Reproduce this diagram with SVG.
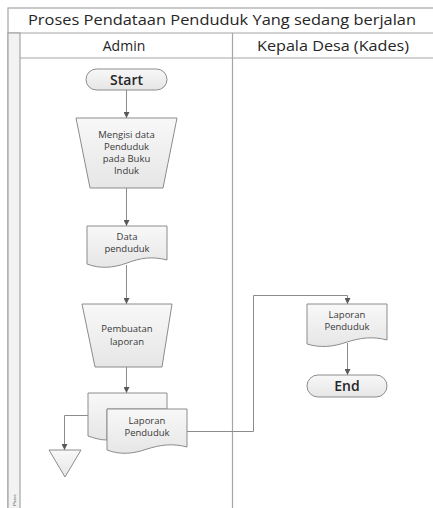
<svg xmlns="http://www.w3.org/2000/svg" width="433" height="508" viewBox="0 0 433 508">
  <style>
    .frame { fill: #ffffff; stroke: #a6a6a6; stroke-width: 1.2; }
    .strip { fill: #f2f2f2; stroke: #a6a6a6; stroke-width: 1.2; }
    .shape { fill: url(#shade); stroke: #8c8c8c; stroke-width: 1; }
    .conn { fill: none; stroke: #8c8c8c; stroke-width: 1; }
    .hdr { font-family: "Open Sans", "Liberation Sans", sans-serif; font-size: 14px; fill: #262626; text-anchor: middle; }
    .lbl { font-family: "Open Sans", "Liberation Sans", sans-serif; font-size: 9.5px; fill: #3a3a3a; text-anchor: middle; }
    .term { font-family: "Open Sans", "Liberation Sans", sans-serif; font-size: 14px; font-weight: 600; fill: #262626; text-anchor: middle; }
  </style>
  <defs>
    <linearGradient id="shade" x1="0" y1="0" x2="0" y2="1">
      <stop offset="0" stop-color="#f8f8f8"/>
      <stop offset="1" stop-color="#e6e6e6"/>
    </linearGradient>
    <marker id="arr" viewBox="0 0 8 8" refX="8" refY="4" markerWidth="6" markerHeight="6" orient="auto" markerUnits="userSpaceOnUse">
      <path d="M0,0 L8,4 L0,8 Z" fill="#595959"/>
    </marker>
  </defs>

  <rect width="433" height="508" fill="#ffffff"/>

  <!-- pool frame: title bar, lane headers, lanes -->
  <g id="pool">
    <rect class="frame" x="8" y="8" width="440" height="520"/>
    <line x1="8" y1="33" x2="448" y2="33" stroke="#a6a6a6" stroke-width="1.2"/>
    <rect class="strip" x="8" y="33" width="12" height="495"/>
    <line x1="20" y1="58" x2="448" y2="58" stroke="#a6a6a6" stroke-width="1.2"/>
    <line x1="232.5" y1="33" x2="232.5" y2="528" stroke="#a6a6a6" stroke-width="1.2"/>
    <text class="hdr" x="222" y="25" textLength="388" lengthAdjust="spacingAndGlyphs">Proses Pendataan Penduduk Yang sedang berjalan</text>
    <text class="hdr" x="124" y="51">Admin</text>
    <text class="hdr" x="333" y="51" textLength="152" lengthAdjust="spacingAndGlyphs">Kepala Desa (Kades)</text>
    <text x="16" y="500" transform="rotate(-90 16 500)" font-family="Liberation Sans, sans-serif" font-size="4" fill="#595959" text-anchor="middle">Phase</text>
  </g>

  <!-- connectors -->
  <g id="connectors">
    <line class="conn" x1="126.5" y1="90" x2="126.5" y2="118" marker-end="url(#arr)"/>
    <line class="conn" x1="126.5" y1="188" x2="126.5" y2="226" marker-end="url(#arr)"/>
    <line class="conn" x1="126.5" y1="265" x2="126.5" y2="304" marker-end="url(#arr)"/>
    <line class="conn" x1="126.5" y1="367" x2="126.5" y2="393" marker-end="url(#arr)"/>
    <polyline class="conn" points="88,415.5 64.5,415.5 64.5,450" marker-end="url(#arr)"/>
    <polyline class="conn" points="187,431.5 253.5,431.5 253.5,295.5 347.5,295.5 347.5,304" marker-end="url(#arr)"/>
    <line class="conn" x1="347.5" y1="343" x2="347.5" y2="375" marker-end="url(#arr)"/>
  </g>

  <g id="start">
    <rect class="shape" x="86" y="69" width="81" height="21" rx="10.5"/>
    <text class="term" x="126.5" y="85">Start</text>
  </g>

  <g id="isi-data">
    <path class="shape" d="M76,118 H177 L163,188 H90 Z"/>
    <text class="lbl" x="126.5" y="138">Mengisi data</text>
    <text class="lbl" x="126.5" y="150">Penduduk</text>
    <text class="lbl" x="126.5" y="162">pada Buku</text>
    <text class="lbl" x="126.5" y="174">Induk</text>
  </g>

  <g id="data-penduduk">
    <path class="shape" d="M87,226 H167 V260 C152,256 140,258 127,263 C113,268 100,269 87,264 Z"/>
    <text class="lbl" x="127" y="240">Data</text>
    <text class="lbl" x="127" y="252">penduduk</text>
  </g>

  <g id="pembuatan-laporan">
    <path class="shape" d="M82,304 H172 L162,367 H95 Z"/>
    <text class="lbl" x="127" y="332">Pembuatan</text>
    <text class="lbl" x="127" y="345">laporan</text>
  </g>

  <g id="laporan-admin">
    <path class="shape" d="M88,393 H167 V409 H107 V440 C100,440 94,438 88,436 Z"/>
    <path class="shape" d="M107,409 H187 V447 C172,443 160,445 147,449 C133,454 120,455 107,450 Z"/>
    <text class="lbl" x="147" y="424">Laporan</text>
    <text class="lbl" x="147" y="436">Penduduk</text>
  </g>

  <g id="arsip">
    <path class="shape" d="M49,450 H81 L65,477 Z"/>
  </g>

  <g id="laporan-kades">
    <path class="shape" d="M307,304 H387 V340 C372,336 360,338 347,342 C333,347 320,348 307,344 Z"/>
    <text class="lbl" x="347" y="318">Laporan</text>
    <text class="lbl" x="347" y="330">Penduduk</text>
  </g>

  <g id="end">
    <rect class="shape" x="307" y="375" width="80" height="22" rx="11"/>
    <text class="term" x="347" y="391">End</text>
  </g>
</svg>
